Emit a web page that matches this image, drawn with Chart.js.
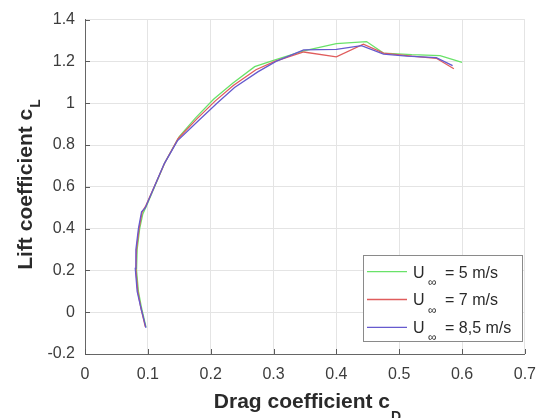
<!DOCTYPE html>
<html><head><meta charset="utf-8">
<script src="https://cdn.jsdelivr.net/npm/chart.js@4"></script>
<style>html,body{margin:0;padding:0;background:#fff}canvas{display:block}</style>
</head><body>
<canvas id="c" width="547" height="418"></canvas>
<script>
// ---- data ----
const seriesLabels = ['5 m/s', '7 m/s', '8,5 m/s'];
const cd5  = [0.097, 0.090, 0.085, 0.082, 0.083, 0.087, 0.092, 0.098, 0.127, 0.150, 0.176, 0.205, 0.235, 0.270, 0.300, 0.348, 0.400, 0.448, 0.475, 0.520, 0.565, 0.600];
const cl5  = [-0.07, 0.02, 0.10, 0.20, 0.30, 0.40, 0.47, 0.51, 0.715, 0.84, 0.93, 1.02, 1.095, 1.175, 1.205, 1.25, 1.285, 1.295, 1.24, 1.232, 1.228, 1.195];
const cd7  = [0.096, 0.089, 0.084, 0.081, 0.082, 0.086, 0.091, 0.097, 0.127, 0.148, 0.178, 0.207, 0.236, 0.272, 0.302, 0.348, 0.400, 0.443, 0.475, 0.520, 0.559, 0.587];
const cl7  = [-0.07, 0.02, 0.10, 0.20, 0.30, 0.40, 0.48, 0.51, 0.715, 0.83, 0.925, 1.01, 1.085, 1.16, 1.20, 1.245, 1.222, 1.282, 1.24, 1.225, 1.215, 1.165];
const cd85 = [0.097, 0.089, 0.083, 0.080, 0.081, 0.085, 0.090, 0.096, 0.126, 0.147, 0.180, 0.210, 0.238, 0.275, 0.304, 0.348, 0.400, 0.440, 0.475, 0.512, 0.559, 0.585];
const cl85 = [-0.075, 0.02, 0.10, 0.21, 0.30, 0.40, 0.48, 0.50, 0.71, 0.82, 0.915, 1.00, 1.075, 1.15, 1.20, 1.255, 1.258, 1.275, 1.235, 1.225, 1.218, 1.18];
const xTickLabels = ['0', '0.1', '0.2', '0.3', '0.4', '0.5', '0.6', '0.7'];
const yTickLabels = ['-0.2', '0', '0.2', '0.4', '0.6', '0.8', '1', '1.2', '1.4'];
const xTitle = 'Drag coefficient c', xTitleSub = 'D';
const yTitle = 'Lift coefficient c', yTitleSub = 'L';
const legendPrefix = 'U', legendSub = '\u221E';

const colors = ['rgb(105,226,105)', 'rgb(224,92,92)', 'rgb(102,90,206)'];
const FONT = '"Liberation Sans", Arial, Helvetica, sans-serif';
const TXT = '#2a2a2a';

const toPts = (xs, ys) => xs.map((x, i) => ({x: x, y: ys[i]}));
const series = [toPts(cd5, cl5), toPts(cd7, cl7), toPts(cd85, cl85)];

const deco = {
  id: 'deco',
  afterDatasetsDraw(chart) {
    const ctx = chart.ctx, a = chart.chartArea, xs = chart.scales.x, ys = chart.scales.y;
    ctx.save();
    // inward ticks
    ctx.strokeStyle = '#5a5a5a'; ctx.lineWidth = 1;
    ctx.beginPath();
    xs.ticks.forEach(t => { const p = Math.round(xs.getPixelForValue(t.value)) + 0.5; ctx.moveTo(p, a.bottom); ctx.lineTo(p, a.bottom - 5); });
    ys.ticks.forEach(t => { const p = Math.round(ys.getPixelForValue(t.value)) + 0.5; ctx.moveTo(a.left, p); ctx.lineTo(a.left + 5, p); });
    ctx.stroke();
    // legend
    const bx = 363, by = 255, bw = 159, bh = 86;
    ctx.fillStyle = '#fff'; ctx.fillRect(bx, by, bw, bh);
    ctx.strokeStyle = '#8a8a8a'; ctx.strokeRect(bx + 0.5, by + 0.5, bw, bh);
    seriesLabels.forEach((lab, i) => {
      const y = 271.7 + i * 27.8;
      ctx.strokeStyle = colors[i]; ctx.lineWidth = 1.3;
      ctx.beginPath(); ctx.moveTo(367, y); ctx.lineTo(407, y); ctx.stroke();
      ctx.fillStyle = TXT; ctx.textBaseline = 'alphabetic'; ctx.textAlign = 'left';
      ctx.font = '16px ' + FONT;
      ctx.fillText(legendPrefix, 413, y + 5.8);
      ctx.font = '12px ' + FONT;
      ctx.fillText(legendSub, 428, y + 14);
      ctx.font = '16px ' + FONT;
      ctx.fillText('= ' + lab, 445, y + 5.8);
    });
    ctx.restore();
  },
  afterDraw(chart) {
    const ctx = chart.ctx;
    ctx.save();
    ctx.fillStyle = TXT; ctx.textBaseline = 'alphabetic'; ctx.textAlign = 'left';
    // x title
    ctx.font = 'bold 21px ' + FONT; const w1 = ctx.measureText(xTitle).width;
    ctx.font = 'bold 14px ' + FONT; const w2 = ctx.measureText(xTitleSub).width;
    const sx = 307 - (w1 + w2) / 2;
    ctx.font = 'bold 21px ' + FONT; ctx.fillText(xTitle, sx, 408);
    ctx.font = 'bold 14px ' + FONT; ctx.fillText(xTitleSub, sx + w1 + 1, 421);
    // y title
    ctx.font = 'bold 21px ' + FONT; const v1 = ctx.measureText(yTitle).width;
    ctx.font = 'bold 14px ' + FONT; const v2 = ctx.measureText(yTitleSub).width;
    ctx.translate(31.5, 185 + (v1 + v2) / 2);
    ctx.rotate(-Math.PI / 2);
    ctx.font = 'bold 21px ' + FONT; ctx.fillText(yTitle, 0, 0);
    ctx.font = 'bold 14px ' + FONT; ctx.fillText(yTitleSub, v1 + 1, 8);
    ctx.restore();
  }
};

new Chart(document.getElementById('c'), {
  type: 'scatter',
  data: {
    datasets: series.map((pts, i) => ({
      label: seriesLabels[i],
      data: pts,
      showLine: true,
      borderColor: colors[i],
      backgroundColor: colors[i],
      borderWidth: 1.3,
      pointRadius: 0,
      tension: 0,
      order: 3 - i
    }))
  },
  options: {
    responsive: false,
    devicePixelRatio: 1,
    animation: false,
    layout: {padding: {top: 17, right: 13, left: 0, bottom: 0}},
    plugins: {legend: {display: false}, tooltip: {enabled: false}},
    scales: {
      x: {
        type: 'linear', min: 0, max: 0.7,
        afterFit(s) { s.height = 64; },
        ticks: {
          stepSize: 0.1, autoSkip: false, maxRotation: 0, padding: 11,
          color: '#3c3c3c', font: {family: FONT, size: 16},
          callback: v => xTickLabels[Math.round(v / 0.1)]
        },
        grid: {color: '#e4e4e4', drawTicks: false},
        border: {color: '#666', width: 1}
      },
      y: {
        type: 'linear', min: -0.2, max: 1.4,
        afterFit(s) { s.width = 85; },
        ticks: {
          stepSize: 0.2, autoSkip: false, padding: 10,
          color: '#3c3c3c', font: {family: FONT, size: 16},
          callback: v => yTickLabels[Math.round((v + 0.2) / 0.2)]
        },
        grid: {color: '#e4e4e4', drawTicks: false},
        border: {color: '#666', width: 1}
      }
    }
  },
  plugins: [deco]
});
</script>
</body></html>
